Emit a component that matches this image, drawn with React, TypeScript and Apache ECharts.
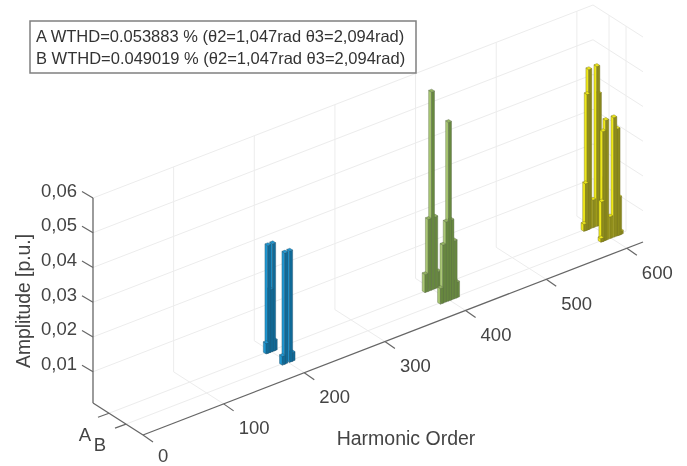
import React, { useEffect, useRef } from "react";
import * as echarts from "echarts";

const legendLines = [
  "A WTHD=0.053883 % (θ2=1,047rad θ3=2,094rad)",
  "B WTHD=0.049019 % (θ2=1,047rad θ3=2,094rad)",
];
const harmonicTicks = [0, 100, 200, 300, 400, 500, 600];
const amplitudeTicks = [0.01, 0.02, 0.03, 0.04, 0.05, 0.06];
const amplitudeLabels = ["0,01", "0,02", "0,03", "0,04", "0,05", "0,06"];
const rowNames = ["A", "B"];

const blueAOrders = [195, 197, 200, 203, 205];
const blueAValues = [0.004, 0.032, 0.019, 0.032, 0.004];
const blueBOrders = [194, 197, 203, 206];
const blueBValues = [0.0035, 0.033, 0.033, 0.0035];

const greenAOrders = [392, 396, 400, 404, 408];
const greenAValues = [0.0062, 0.0217, 0.058, 0.0217, 0.0056];
const greenBOrders = [390, 393, 397, 400, 403, 407, 410];
const greenBValues = [0.0055, 0.0177, 0.024, 0.0524, 0.024, 0.0177, 0.0055];

const yellowAOrders = [589, 591, 593, 595, 600, 605, 607, 609, 611];
const yellowAValues = [0.003, 0.0145, 0.04, 0.047, 0.009, 0.047, 0.039, 0.0145, 0.003];
const yellowBOrders = [589, 590, 591.5, 595, 600, 605, 609, 611, 613];
const yellowBValues = [0.002, 0.0125, 0.0326, 0.0355, 0.0073, 0.0354, 0.0318, 0.012, 0.002];

const X_MAX = 620;
const Z_MIN = 0.001;
const Z_MAX = 0.06;
const ROW_DEPTH: Record<string, number> = { A: 0.32, B: 0.66 };
const ROW_LABEL_OFFSET: Record<string, number[]> = { A: [-24, 21], B: [-26, 20] };
const SLOPE = 0.386;
const DEPTH_DX = 50;
const DEPTH_DY = 32;
const BAR_HALF_X = 1.9;
const BAR_HALF_D = 0.028;
const TEXT = "#444444";
const FONT = "Liberation Sans, Arial, sans-serif";

function project(api: any, x: number, d: number, z: number): number[] {
  const origin = api.coord([0, Z_MIN]);
  const p = api.coord([x, z]);
  return [p[0] + d * DEPTH_DX, p[1] - SLOPE * (p[0] - origin[0]) + d * DEPTH_DY];
}

type Seg = [number, number, number, number, number, number, number];
const gridSegments: Seg[] = [];
harmonicTicks.slice(1).forEach((x) => {
  gridSegments.push([x, 0, Z_MIN, x, 0, Z_MAX, 0]);
  gridSegments.push([x, 0, Z_MIN, x, 1, Z_MIN, 0]);
});
amplitudeTicks.forEach((z) => {
  gridSegments.push([0, 0, z, X_MAX, 0, z, 0]);
  gridSegments.push([X_MAX, 0, z, X_MAX, 1, z, 0]);
});
rowNames.forEach((r) => {
  const d = ROW_DEPTH[r];
  gridSegments.push([0, d, Z_MIN, X_MAX, d, Z_MIN, 0]);
  gridSegments.push([X_MAX, d, Z_MIN, X_MAX, d, Z_MAX, 0]);
});
const axisSegments: Seg[] = [
  [0, 0, Z_MIN, 0, 0, Z_MAX, 1],
  [0, 0, Z_MIN, 0, 1, Z_MIN, 1],
  [0, 1, Z_MIN, X_MAX, 1, Z_MIN, 1],
];

function frameSeries(segs: Seg[], color: string, width: number) {
  return {
    type: "custom",
    silent: true,
    data: segs,
    encode: { x: [0, 3], y: [2, 5] },
    renderItem: (_p: any, api: any) => {
      const a = project(api, api.value(0), api.value(1), api.value(2));
      const b = project(api, api.value(3), api.value(4), api.value(5));
      return {
        type: "line",
        shape: { x1: a[0], y1: a[1], x2: b[0], y2: b[1] },
        style: { stroke: color, lineWidth: width, fill: "none" },
      };
    },
  };
}

function tickSeries() {
  const data: number[][] = [];
  harmonicTicks.forEach((x) => data.push([x, 1, Z_MIN, 10, 7]));
  amplitudeTicks.forEach((z) => data.push([0, 0, z, -11, -6.5]));
  rowNames.forEach((r) => data.push([0, ROW_DEPTH[r], Z_MIN, -11, 4]));
  return {
    type: "custom",
    silent: true,
    data,
    encode: { x: 0, y: 2 },
    renderItem: (_p: any, api: any) => {
      const a = project(api, api.value(0), api.value(1), api.value(2));
      return {
        type: "line",
        shape: { x1: a[0], y1: a[1], x2: a[0] + api.value(3), y2: a[1] + api.value(4) },
        style: { stroke: "#666666", lineWidth: 1.2, fill: "none" },
      };
    },
  };
}

function labelSeries() {
  const labels: { x: number; d: number; z: number; dx: number; dy: number; text: string; align: string }[] = [];
  harmonicTicks.forEach((x) =>
    labels.push({ x, d: 1, z: Z_MIN, dx: x === 0 ? 15 : 15, dy: x === 0 ? 20.5 : 24, text: String(x), align: "left" })
  );
  amplitudeTicks.forEach((z, i) =>
    labels.push({ x: 0, d: 0, z, dx: -16, dy: -8, text: amplitudeLabels[i], align: "right" })
  );
  rowNames.forEach((r) =>
    labels.push({
      x: 0,
      d: ROW_DEPTH[r],
      z: Z_MIN,
      dx: ROW_LABEL_OFFSET[r][0],
      dy: ROW_LABEL_OFFSET[r][1],
      text: r,
      align: "center",
    })
  );
  return {
    type: "custom",
    silent: true,
    data: labels.map((l, i) => [l.x, l.z, i]),
    encode: { x: 0, y: 1 },
    renderItem: (_p: any, api: any) => {
      const l = labels[api.value(2)];
      const a = project(api, l.x, l.d, l.z);
      return {
        type: "text",
        x: a[0] + l.dx,
        y: a[1] + l.dy,
        style: {
          text: l.text,
          fill: TEXT,
          font: `18.5px ${FONT}`,
          align: l.align,
          verticalAlign: "middle",
        },
      };
    },
  };
}

function barSeries(orders: number[], values: number[], row: string, colors: string[]) {
  const d = ROW_DEPTH[row];
  const [left, right, top, stroke] = colors;
  const data = orders
    .map((o, i) => [o, values[i]])
    .sort((a, b) => b[0] - a[0]);
  return {
    type: "custom",
    silent: true,
    data,
    encode: { x: 0, y: 1 },
    renderItem: (_p: any, api: any) => {
      const x = api.value(0);
      const z = api.value(1);
      const x0 = x - BAR_HALF_X;
      const x1 = x + BAR_HALF_X;
      const d0 = d - BAR_HALF_D;
      const d1 = d + BAR_HALF_D;
      const pt = (px: number, pd: number, pz: number) => project(api, px, pd, pz);
      const edge = { stroke, lineWidth: 0.4 };
      return {
        type: "group",
        children: [
          {
            type: "polygon",
            shape: { points: [pt(x0, d0, Z_MIN), pt(x0, d1, Z_MIN), pt(x0, d1, z), pt(x0, d0, z)] },
            style: { fill: left, ...edge },
          },
          {
            type: "polygon",
            shape: { points: [pt(x0, d1, Z_MIN), pt(x1, d1, Z_MIN), pt(x1, d1, z), pt(x0, d1, z)] },
            style: { fill: right, ...edge },
          },
          {
            type: "polygon",
            shape: { points: [pt(x0, d0, z), pt(x0, d1, z), pt(x1, d1, z), pt(x1, d0, z)] },
            style: { fill: top, ...edge },
          },
        ],
      };
    },
  };
}

const BLUE = ["#1f97d2", "#106a98", "#1f97d2", "#24506a"];
const GREEN = ["#aac874", "#67883f", "#93b360", "#5a6b48"];
const YELLOW = ["#efe81a", "#8e8c1c", "#efe81a", "#6e6c20"];

export default function App() {
  const ref = useRef<HTMLDivElement>(null);
  useEffect(() => {
    document.body.style.margin = "0";
    const chart = echarts.init(ref.current!, null, { renderer: "svg" });
    chart.setOption({
      animation: false,
      backgroundColor: "#ffffff",
      grid: { left: 93, top: 198, width: 500, height: 205, containLabel: false },
      xAxis: { type: "value", min: 0, max: X_MAX, show: false },
      yAxis: { type: "value", min: Z_MIN, max: Z_MAX, show: false },
      series: [
        frameSeries(gridSegments, "#ececec", 1),
        frameSeries(axisSegments, "#666666", 1.3),
        tickSeries(),
        labelSeries(),
        barSeries(blueAOrders, blueAValues, "A", BLUE),
        barSeries(greenAOrders, greenAValues, "A", GREEN),
        barSeries(yellowAOrders, yellowAValues, "A", YELLOW),
        barSeries(yellowBOrders, yellowBValues, "B", YELLOW),
        barSeries(greenBOrders, greenBValues, "B", GREEN),
        barSeries(blueBOrders, blueBValues, "B", BLUE),
      ],
      graphic: [
        {
          type: "rect",
          shape: { x: 30, y: 21, width: 386, height: 52 },
          style: { fill: "#ffffff", stroke: "#808080", lineWidth: 1.5 },
          z: 10,
        },
        ...legendLines.map((t, i) => ({
          type: "text",
          x: 36,
          y: 36 + i * 22,
          z: 11,
          style: { text: t, fill: "#333333", font: `16.5px ${FONT}`, verticalAlign: "middle" },
        })),
        {
          type: "text",
          x: 23,
          y: 301,
          rotation: Math.PI / 2,
          style: { text: "Amplitude [p.u.]", fill: TEXT, font: `19.3px ${FONT}`, align: "center", verticalAlign: "middle" },
        },
        {
          type: "text",
          x: 406,
          y: 438,
          style: { text: "Harmonic Order", fill: TEXT, font: `19.5px ${FONT}`, align: "center", verticalAlign: "middle" },
        },
      ],
    });
    return () => chart.dispose();
  }, []);
  return <div ref={ref} style={{ position: "absolute", left: 0, top: 0, width: 687, height: 466, filter: "blur(0.5px)" }} />;
}
